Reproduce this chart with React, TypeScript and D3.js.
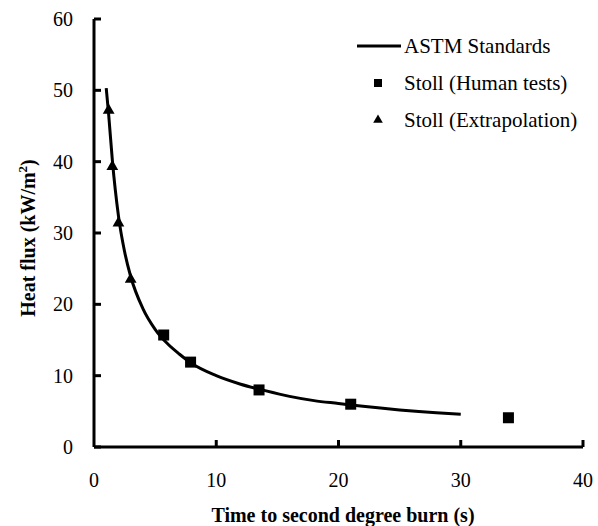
import React from "react";
import * as d3 from "d3";

const astmTime = [1.0, 1.2, 1.5, 2.0, 2.5, 3.0, 4.0, 5.0, 6.0, 7.0, 8.0, 10, 12, 14, 16, 18, 20, 22, 25, 28, 30];
const astmFlux = [50.3, 46.6, 40.2, 32.4, 27.4, 23.9, 19.4, 16.5, 14.5, 13.0, 11.7, 10.0, 8.8, 7.9, 7.1, 6.5, 6.1, 5.7, 5.2, 4.8, 4.6];

const humanTime = [5.7, 7.9, 13.5, 21.0, 33.9];
const humanFlux = [15.7, 11.9, 8.0, 6.0, 4.1];

const extraTime = [1.2, 1.5, 2.0, 3.0];
const extraFlux = [47.2, 39.3, 31.4, 23.5];

const xTicks = [0, 10, 20, 30, 40];
const yTicks = [0, 10, 20, 30, 40, 50, 60];

const legendLabels = ["ASTM Standards", "Stoll (Human tests)", "Stoll (Extrapolation)"];

const W = 598;
const H = 526;
const FONT = "'Liberation Serif', 'Times New Roman', serif";

export default function App() {
  const x = d3.scaleLinear().domain([0, 40]).range([94, 583]);
  const y = d3.scaleLinear().domain([0, 60]).range([447, 19]);

  const line = d3
    .line<number>()
    .x((_, i) => x(astmTime[i]))
    .y((d) => y(d))
    .curve(d3.curveMonotoneX);

  const tri = d3.symbol().type(d3.symbolTriangle).size(60)();
  const triSmall = d3.symbol().type(d3.symbolTriangle).size(40)();

  return (
    <svg
      width={W}
      height={H}
      style={{ position: "absolute", left: 0, top: 0, background: "#fff" }}
      fontFamily={FONT}
    >
      <rect x={0} y={0} width={W} height={H} fill="#fff" />
      {/* axes */}
      <line x1={x(0)} x2={x(0)} y1={y(0)} y2={y(60)} stroke="#000" strokeWidth={3} />
      <line x1={x(0)} x2={x(40)} y1={y(0)} y2={y(0)} stroke="#000" strokeWidth={3} />
      {yTicks.map((t) => (
        <g key={"y" + t}>
          <line x1={x(0)} x2={x(0) + 7} y1={y(t)} y2={y(t)} stroke="#000" strokeWidth={3} />
          <text x={73} y={y(t)} dy="0.35em" textAnchor="end" fontSize={20}>
            {t}
          </text>
        </g>
      ))}
      {xTicks.map((t) => (
        <g key={"x" + t}>
          {t > 0 && (
            <line x1={x(t)} x2={x(t)} y1={y(0)} y2={y(0) - 7} stroke="#000" strokeWidth={3} />
          )}
          <text x={x(t)} y={487} textAnchor="middle" fontSize={20}>
            {t}
          </text>
        </g>
      ))}
      {/* axis titles */}
      <text x={343} y={522} textAnchor="middle" fontSize={20} fontWeight="bold">
        Time to second degree burn  (s)
      </text>
      <text
        transform={`translate(35,238) rotate(-90)`}
        textAnchor="middle"
        fontSize={20}
        fontWeight="bold"
      >
        Heat flux (kW/m<tspan dy={-8} fontSize={13}>2</tspan>
        <tspan dy={8}>)</tspan>
      </text>
      {/* curve */}
      <path d={line(astmFlux) || ""} fill="none" stroke="#000" strokeWidth={3} />
      {/* markers */}
      {humanTime.map((t, i) => (
        <rect
          key={"h" + i}
          x={x(t) - 5.5}
          y={y(humanFlux[i]) - 5.5}
          width={11}
          height={11}
          fill="#000"
        />
      ))}
      {extraTime.map((t, i) => (
        <path
          key={"e" + i}
          d={tri || ""}
          transform={`translate(${x(t)},${y(extraFlux[i])})`}
          fill="#000"
        />
      ))}
      {/* legend */}
      <g>
        <line x1={357} x2={401} y1={46} y2={46} stroke="#000" strokeWidth={3} />
        <text x={404} y={53} fontSize={21}>{legendLabels[0]}</text>
        <rect x={374} y={79} width={8} height={8} fill="#000" />
        <text x={404} y={90} fontSize={21}>{legendLabels[1]}</text>
        <path d={triSmall || ""} transform="translate(378,120)" fill="#000" />
        <text x={404} y={127} fontSize={21}>{legendLabels[2]}</text>
      </g>
    </svg>
  );
}
